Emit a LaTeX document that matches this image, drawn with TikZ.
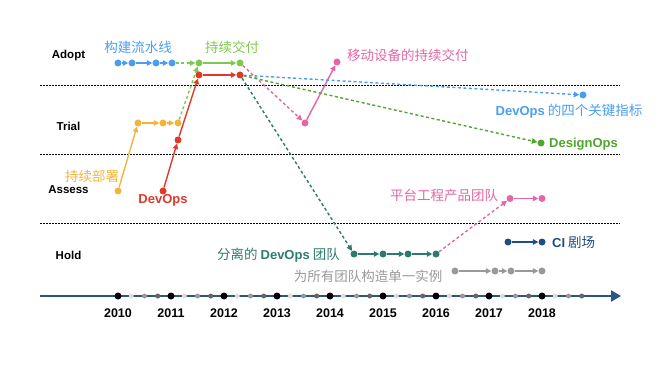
\documentclass[tikz,border=0pt]{standalone}
\usepackage{fontspec}
\setmainfont{Liberation Sans}
\newfontfamily\cjk{Noto Sans CJK SC}
\usetikzlibrary{arrows.meta}
\definecolor{cblue}{HTML}{4A9EF2}
\definecolor{lgreen}{HTML}{7CCB4C}
\definecolor{dgreen}{HTML}{4FA62F}
\definecolor{cred}{HTML}{E0392B}
\definecolor{cyellow}{HTML}{F0B63C}
\definecolor{cpink}{HTML}{E466A6}
\definecolor{cteal}{HTML}{2E7A6E}
\definecolor{cdblue}{HTML}{1F4E80}
\definecolor{cgray}{HTML}{999999}
\definecolor{axisblue}{HTML}{2A5585}
\definecolor{qlight}{HTML}{DDDDDD}
\definecolor{qmid}{HTML}{999999}
\definecolor{qdark}{HTML}{666666}
\begin{document}
\begin{tikzpicture}[x=1pt,y=-1pt,
  dot/.style={circle, fill=#1, draw=none, minimum size=7pt, inner sep=0pt},
  adot/.style={circle, fill=#1, draw=none, minimum size=5pt, inner sep=0pt},
  conn/.style={draw=#1, line width=1.4pt, -{Triangle[length=5.5pt,width=5.5pt]}},
  dconn/.style={conn=#1, dash pattern=on 3pt off 2.5pt},
  lbl/.style={text=#1, font=\fontsize{13.5}{15}\selectfont\cjk, inner sep=0pt},
  rowlbl/.style={font=\fontsize{11.5}{13}\selectfont\bfseries, inner sep=0pt},
  yearlbl/.style={font=\fontsize{12.5}{14}\selectfont\bfseries, inner sep=0pt},
  sep/.style={draw=black, line width=0.9pt, dash pattern=on 1.5pt off 1.5pt}
]
\useasboundingbox (0,0) rectangle (660,371);

% separators
\foreach \yy/\n in {85/a,154.5/b,223.5/c}{
  \coordinate (s\n0) at (40,\yy);
  \coordinate (s\n1) at (620,\yy);
  \draw[sep] (s\n0) -- (s\n1);
}

% row labels
\node[rowlbl] (rAdopt) at (68.5,56) {Adopt};
\node[rowlbl] (rTrial) at (68.5,126) {Trial};
\node[rowlbl] (rAssess) at (68.5,190) {Assess};
\node[rowlbl] (rHold) at (68.5,255) {Hold};

% axis
\coordinate (ax0) at (40,296);
\coordinate (ax1) at (621,296);
\draw[axisblue, line width=2.8pt, -{Triangle[length=10pt,width=11pt]}] (ax0) -- (ax1);
\foreach \i [evaluate=\i as \x using 118+53*\i, count=\c from 2010] in {0,...,8}{
  \node[dot=black] (yr\i) at (\x,296) {};
  \node[adot=qlight] (qa\i) at (\x+13.25,296) {};
  \node[adot=qmid] (qb\i) at (\x+26.5,296) {};
  \node[adot=qdark] (qc\i) at (\x+39.75,296) {};
  \node[yearlbl] (yl\i) at (\x,313) {\c};
}

% blue: build pipeline
\node[dot=cblue] (b1) at (118,63) {};
\node[dot=cblue] (b2) at (132,63) {};
\node[dot=cblue] (b3) at (156,63) {};
\node[dot=cblue] (b4) at (172,63) {};
\draw[conn=cblue] (b1) -- (b2);
\draw[conn=cblue] (b2) -- (b3);
\draw[conn=cblue] (b3) -- (b4);
\node[lbl=cblue] (lb) at (138,47) {构建流水线};

% light green: continuous delivery
\node[dot=lgreen] (g1) at (199,63) {};
\node[dot=lgreen] (g2) at (240,63) {};
\draw[dconn=lgreen] (b4) -- (g1);
\draw[conn=lgreen] (g1) -- (g2);
\node[lbl=lgreen] (lg) at (232,47) {持续交付};

% yellow: continuous deployment
\node[dot=cyellow] (y1) at (118,191) {};
\node[dot=cyellow] (y2) at (138,123) {};
\node[dot=cyellow] (y3) at (163,123) {};
\node[dot=cyellow] (y4) at (178,123) {};
\draw[conn=cyellow] (y1) -- (y2);
\draw[conn=cyellow] (y2) -- (y3);
\draw[conn=cyellow] (y3) -- (y4);
\draw[dconn=lgreen] (y4) -- (g1);
\node[lbl=cyellow] (ly) at (92,176) {持续部署};

% red: DevOps
\node[dot=cred] (r1) at (163,191) {};
\node[dot=cred] (r2) at (178,140) {};
\node[dot=cred] (r3) at (199,75) {};
\node[dot=cred] (r4) at (240,75) {};
\draw[conn=cred] (r1) -- (r2);
\draw[conn=cred] (r2) -- (r3);
\draw[conn=cred] (r3) -- (r4);
\node[text=cred, font=\fontsize{13}{15}\selectfont\bfseries, inner sep=0pt] (lr) at (163,200.5) {DevOps};

% pink: mobile continuous delivery
\node[dot=cpink] (p1) at (305,123) {};
\node[dot=cpink] (p2) at (337,62) {};
\draw[dconn=cpink] (g2) -- (p1);
\draw[conn=cpink] (p1) -- (p2);
\node[lbl=cpink, anchor=west] (lp) at (347,55) {移动设备的持续交付};

% blue dashed: four key metrics
\node[dot=cblue] (k1) at (583,95) {};
\draw[dconn=cblue] (r4) -- (k1);
\node[lbl=cblue] (lk) at (569,111) {{\rmfamily\bfseries\fontsize{13}{15}\selectfont DevOps} 的四个关键指标};

% dark green dashed: DesignOps
\node[dot=dgreen] (d1) at (541,143) {};
\draw[dconn=dgreen] (r4) -- (d1);
\node[text=dgreen, font=\fontsize{13}{15}\selectfont\bfseries, inner sep=0pt, anchor=west] (ld) at (549,144) {DesignOps};

% teal: separate DevOps team
\node[dot=cteal] (t1) at (354,254) {};
\node[dot=cteal] (t2) at (383,254) {};
\node[dot=cteal] (t3) at (408,254) {};
\node[dot=cteal] (t4) at (436,254) {};
\draw[dconn=cteal] (r4) -- (t1);
\draw[conn=cteal] (t1) -- (t2);
\draw[conn=cteal] (t2) -- (t3);
\draw[conn=cteal] (t3) -- (t4);
\node[lbl=cteal, anchor=east] (lt) at (340,255) {分离的 {\rmfamily\bfseries\fontsize{13}{15}\selectfont DevOps} 团队};

% pink: platform engineering product team
\node[dot=cpink] (q1) at (510,198.5) {};
\node[dot=cpink] (q2) at (542,198.5) {};
\draw[dconn=cpink] (t4) -- (q1);
\draw[conn=cpink] (q1) -- (q2);
\node[lbl=cpink] (lq) at (444,195) {平台工程产品团队};

% dark blue: CI theatre
\node[dot=cdblue] (c1) at (508,242) {};
\node[dot=cdblue] (c2) at (542,242) {};
\draw[conn=cdblue] (c1) -- (c2);
\node[lbl=cdblue, anchor=west] (lc) at (552,242) {{\rmfamily\bfseries\fontsize{13}{15}\selectfont CI} 剧场};

% gray: single instance for all teams
\node[dot=cgray] (g5) at (455,271) {};
\node[dot=cgray] (g6) at (495,271) {};
\node[dot=cgray] (g7) at (511,271) {};
\node[dot=cgray] (g8) at (542,271) {};
\draw[conn=cgray] (g5) -- (g6);
\draw[conn=cgray] (g6) -- (g7);
\draw[conn=cgray] (g7) -- (g8);
\node[lbl=cgray] (ls) at (368,276) {为所有团队构造单一实例};
\end{tikzpicture}
\end{document}
